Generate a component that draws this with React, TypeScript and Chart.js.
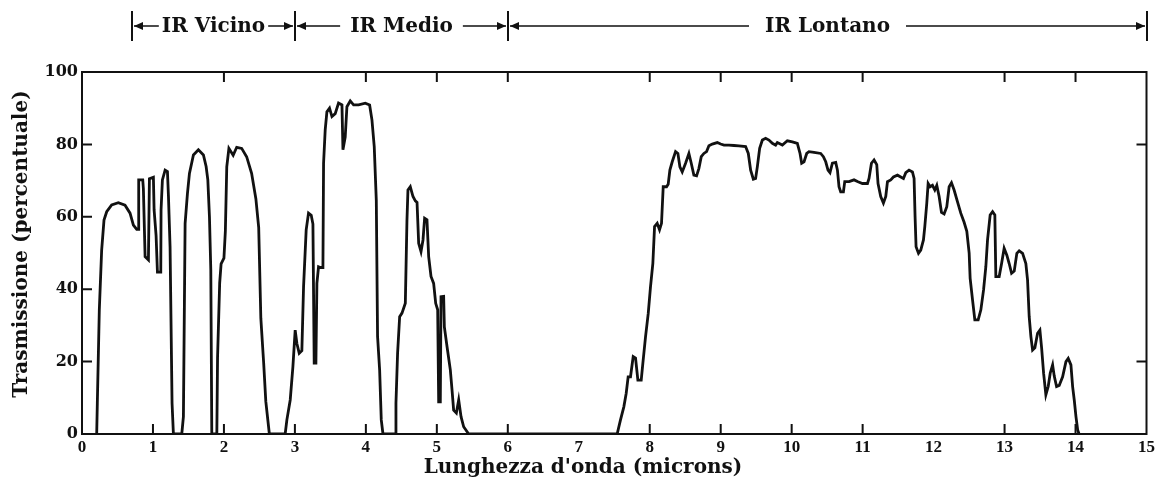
import { useEffect, useRef } from 'react';
import { Chart, registerables } from 'chart.js';

Chart.register(...registerables);

// Wavelength (microns) and atmospheric transmission (%)
const wavelength = [
  0.19, 0.207, 0.216, 0.244, 0.277, 0.31, 0.348, 0.418, 0.512, 0.606, 0.677, 0.724, 0.771, 0.795,
  0.799, 0.856, 0.865, 0.889, 0.936, 0.95, 1.006, 1.016, 1.044, 1.063, 1.11, 1.114, 1.133, 1.171,
  1.204, 1.218, 1.241, 1.269, 1.288,
  1.406, 1.429, 1.453, 1.486, 1.514, 1.57, 1.64, 1.711, 1.749, 1.773, 1.796, 1.815, 1.829,
  1.9, 1.91, 1.94, 1.96, 2.0, 2.02, 2.04, 2.07, 2.13, 2.18, 2.25, 2.32, 2.39, 2.45, 2.49, 2.52,
  2.56, 2.59, 2.64,
  2.863, 2.887, 2.934, 2.972, 3.004, 3.028, 3.061, 3.098, 3.122, 3.159, 3.192, 3.23, 3.254, 3.272,
  3.296, 3.31, 3.333, 3.357, 3.395, 3.404, 3.427, 3.451, 3.488, 3.522, 3.568, 3.615, 3.663, 3.677,
  3.709, 3.733, 3.78, 3.827, 3.897, 3.992, 4.053, 4.086, 4.118, 4.147, 4.165, 4.194, 4.217, 4.241,
  4.415, 4.424, 4.447, 4.476, 4.509, 4.556, 4.579, 4.593, 4.626, 4.664, 4.697, 4.721, 4.744, 4.777,
  4.805, 4.828, 4.861, 4.885, 4.918, 4.955, 4.984, 5.012, 5.026, 5.049, 5.059, 5.096, 5.106, 5.144,
  5.19, 5.214, 5.237, 5.275, 5.308, 5.341, 5.378, 5.449,
  7.541, 7.588, 7.635, 7.668, 7.696, 7.729, 7.767, 7.8, 7.833, 7.88, 7.903, 7.941, 7.979, 8.011,
  8.044, 8.068, 8.105, 8.138, 8.166, 8.19, 8.237, 8.26, 8.284, 8.317, 8.364, 8.397, 8.425, 8.458,
  8.505, 8.552, 8.585, 8.622, 8.66, 8.693, 8.726, 8.763, 8.801, 8.834, 8.881, 8.952, 8.999, 9.046,
  9.116, 9.187, 9.257, 9.351, 9.389, 9.422, 9.46, 9.492, 9.516, 9.549, 9.587, 9.633, 9.68, 9.728,
  9.774, 9.798, 9.869, 9.939, 10.01, 10.08, 10.118, 10.141, 10.174, 10.212, 10.244, 10.315, 10.409,
  10.447, 10.48, 10.512, 10.54, 10.574, 10.621, 10.645, 10.667, 10.691, 10.729, 10.748, 10.809,
  10.879, 10.935, 10.997, 11.068, 11.09, 11.124, 11.161, 11.199, 11.217, 11.255, 11.293, 11.326,
  11.35, 11.396, 11.434, 11.491, 11.537, 11.575, 11.608, 11.654, 11.702, 11.725, 11.739, 11.753,
  11.787, 11.819, 11.857, 11.876, 11.904, 11.923, 11.951, 11.984, 12.017, 12.045, 12.078, 12.111,
  12.148, 12.186, 12.219, 12.252, 12.289, 12.336, 12.383, 12.43, 12.468, 12.501, 12.515, 12.549,
  12.581, 12.628, 12.666, 12.704, 12.736, 12.76, 12.797, 12.831, 12.863, 12.877, 12.924, 12.958,
  12.994, 13.032, 13.065, 13.099, 13.136, 13.173, 13.206, 13.254, 13.3, 13.324, 13.347, 13.371,
  13.395, 13.427, 13.465, 13.498, 13.522, 13.55, 13.582, 13.615, 13.643, 13.677, 13.7, 13.733,
  13.77, 13.818, 13.865, 13.897, 13.935, 13.959, 13.982, 14.006, 14.03, 14.05,
];

const transmission = [
  0, 0, 8.5, 34.3, 50.8, 59.1, 61.4, 63.3, 63.9, 63.2, 61, 57.7, 56.5, 56.5,
  70.2, 70.2, 67.7, 49, 48.1, 70.5, 70.9, 61.9, 54.8, 44.7, 44.7, 61.9, 70.2, 72.9,
  72.5, 65.8, 51.7, 8.5, 0,
  0, 4.8, 58.2, 66.5, 72, 77.1, 78.5, 77.1, 73.9, 70.2, 60, 45.3, 0,
  0, 21, 41.7, 47, 48.6, 56, 73.8, 78.9, 77, 79.2, 78.9, 76.6, 72, 65, 57, 32,
  19.6, 9, 0,
  0, 3.9, 9.4, 18.6, 28.7, 25, 22.3, 23, 40.7, 56.4, 61, 60.4, 58, 19.6,
  19.6, 41.6, 46.2, 46, 46, 74.8, 84, 89, 90, 87.7, 88.5, 91.4, 90.9, 78.5,
  82, 90.4, 92, 90.9, 90.9, 91.4, 90.9, 86.7, 79.4, 64.6, 26.9, 17.7, 3.9, 0,
  0, 8.5, 22.3, 32.4, 33.4, 36.1, 59, 67.4, 68.3, 65.6, 64.4, 64, 52.7, 50.4,
  53.6, 59.6, 59.2, 49, 43.5, 41.6, 36.1, 34.3, 8.9, 8.9, 37.9, 38, 29.6, 24.1,
  17.7, 12.2, 6.6, 5.8, 9.4, 4.8, 2, 0,
  0, 3.9, 7.5, 11.2, 15.8, 15.8, 21.4, 21, 14.9, 14.9, 19.5, 26.9, 33.3, 40.7,
  47.1, 57.3, 58.2, 56.4, 58.2, 68.3, 68.3, 69, 72.9, 75.2, 78, 77.5, 73.8, 72.4,
  74.8, 77.5, 74.8, 71.5, 71.3, 73.4, 76.6, 77.5, 78, 79.6, 80.1, 80.5, 80.1, 79.8,
  79.8, 79.7, 79.6, 79.4, 77.5, 72.9, 70.4, 70.6, 73.8, 78.9, 81.2, 81.7, 81.2, 80.3,
  79.8, 80.5, 79.8, 81, 80.7, 80.3, 77.5, 74.8, 75.2, 77.5, 78, 77.8, 77.5,
  76.6, 75.2, 72.9, 72.2, 74.8, 75, 72.9, 68.3, 66.9, 66.9, 69.7, 69.7,
  70.2, 69.7, 69.2, 69.2, 70.6, 74.8, 75.7, 74.4, 69.2, 65.6, 63.8, 65.6,
  69.7, 70.2, 71, 71.5, 71, 70.6, 72.2, 72.9, 72.4, 70.6, 60, 51.7,
  49.9, 50.8, 53.6, 57.3, 63.8, 69.2, 68.3, 68.7, 67.4, 68.7, 65.6, 61.2,
  60.8, 62.8, 68.3, 69.4, 67.4, 64.2, 61, 58.5, 56, 50, 43, 37,
  31.5, 31.5, 34.3, 39.8, 46.2, 53.6, 60.5, 61.4, 60.5, 43.5, 43.5, 47.1,
  51.3, 49.4, 47.1, 44.4, 45, 49.9, 50.6, 49.9, 47.1, 42.5, 32.4, 26.9,
  23.2, 23.8, 27.8, 28.7, 23.8, 16.8, 10.8, 13.1, 16.8, 19.1, 16, 13.1,
  13.4, 15.8, 20, 20.9, 19.1, 13.1, 9.4, 4.8, 1.1, 0,
];

const xTickValues = [0, 1, 2, 3, 4, 5, 6, 7, 8, 9, 10, 11, 12, 13, 14, 15];
const yTickValues = [0, 20, 40, 60, 80, 100];
const topTickMarks = [2, 4, 5, 6, 8, 9, 10, 11, 13, 14];
const bottomTickMarks = [1, 2, 3, 4, 5, 6, 8, 9, 10, 11, 13, 14];
const leftTickMarks = [20, 40, 60, 80];
const rightTickMarks = [20, 80];

const bandEdges = [0.7, 3, 6, 15];
const bandNames = ['IR Vicino', 'IR Medio', 'IR Lontano'];
const bandGaps = [3, 10, 16];

const xTitle = "Lunghezza d'onda (microns)";
const yTitle = 'Trasmissione (percentuale)';

const INK = '#111';
const TITLE_FONT = 'bold 20px "DejaVu Serif"';

const decorPlugin = {
  id: 'decor',
  afterDraw(chart: any) {
    const { ctx, chartArea: a, scales } = chart;
    const xs = scales.x;
    const ys = scales.y;
    ctx.save();
    ctx.strokeStyle = INK;
    ctx.fillStyle = INK;
    ctx.lineWidth = 2;
    ctx.strokeRect(a.left, a.top, a.right - a.left, a.bottom - a.top);

    const L = 10;
    ctx.beginPath();
    for (const v of bottomTickMarks) {
      const p = xs.getPixelForValue(v);
      ctx.moveTo(p, a.bottom);
      ctx.lineTo(p, a.bottom - L);
    }
    for (const v of topTickMarks) {
      const p = xs.getPixelForValue(v);
      ctx.moveTo(p, a.top);
      ctx.lineTo(p, a.top + L);
    }
    for (const v of leftTickMarks) {
      const p = ys.getPixelForValue(v);
      ctx.moveTo(a.left, p);
      ctx.lineTo(a.left + L, p);
    }
    for (const v of rightTickMarks) {
      const p = ys.getPixelForValue(v);
      ctx.moveTo(a.right, p);
      ctx.lineTo(a.right - L, p);
    }
    ctx.stroke();

    // Band header with arrows
    const yLine = 26;
    ctx.beginPath();
    for (const e of bandEdges) {
      const p = Math.round(xs.getPixelForValue(e));
      ctx.moveTo(p, 11);
      ctx.lineTo(p, 41);
    }
    ctx.stroke();
    ctx.font = TITLE_FONT;
    ctx.textAlign = 'center';
    ctx.textBaseline = 'alphabetic';
    const head = (tipX: number, dir: number) => {
      ctx.beginPath();
      ctx.moveTo(tipX, yLine);
      ctx.lineTo(tipX + dir * 9, yLine - 4);
      ctx.lineTo(tipX + dir * 9, yLine + 4);
      ctx.closePath();
      ctx.fill();
    };
    ctx.lineWidth = 1.6;
    for (let i = 0; i < bandNames.length; i++) {
      const l = Math.round(xs.getPixelForValue(bandEdges[i]));
      const r = Math.round(xs.getPixelForValue(bandEdges[i + 1]));
      const c = (l + r) / 2;
      const w = ctx.measureText(bandNames[i]).width;
      ctx.fillText(bandNames[i], c, 32);
      ctx.beginPath();
      ctx.moveTo(l + 2, yLine);
      ctx.lineTo(c - w / 2 - bandGaps[i], yLine);
      ctx.moveTo(c + w / 2 + bandGaps[i], yLine);
      ctx.lineTo(r - 2, yLine);
      ctx.stroke();
      head(l + 2, 1);
      head(r - 2, -1);
    }

    // Axis titles
    ctx.font = TITLE_FONT;
    ctx.textAlign = 'center';
    ctx.textBaseline = 'middle';
    ctx.fillText(xTitle, 583, 468);
    ctx.save();
    ctx.translate(22, 244);
    ctx.rotate(-Math.PI / 2);
    ctx.fillText(yTitle, 0, 0);
    ctx.restore();

    ctx.restore();
  },
};

export default function App() {
  const canvasRef = useRef<HTMLCanvasElement | null>(null);

  useEffect(() => {
    if (!canvasRef.current) return;
    const points = wavelength.map((x, i) => ({ x, y: transmission[i] }));
    const chart = new Chart(canvasRef.current, {
      type: 'line',
      data: {
        datasets: [
          {
            data: points,
            borderColor: INK,
            borderWidth: 2.8,
            pointRadius: 0,
            tension: 0,
            fill: false,
          },
        ],
      },
      options: {
        animation: false,
        responsive: true,
        maintainAspectRatio: false,
        layout: { padding: { top: 72, right: 11, left: 0, bottom: 0 } },
        plugins: {
          legend: { display: false },
          tooltip: { enabled: false },
          title: { display: false },
        },
        scales: {
          x: {
            type: 'linear',
            min: 0,
            max: 15,
            afterBuildTicks: (s: any) => {
              s.ticks = xTickValues.map((v) => ({ value: v }));
            },
            afterFit: (s: any) => {
              s.height = 50;
            },
            grid: { display: false, drawTicks: false },
            border: { display: false },
            ticks: {
              color: INK,
              padding: 3,
              maxRotation: 0,
              autoSkip: false,
              font: { family: '"Liberation Serif"', weight: 'bold', size: 17 },
            },
          },
          y: {
            type: 'linear',
            min: 0,
            max: 100,
            afterBuildTicks: (s: any) => {
              s.ticks = yTickValues.map((v) => ({ value: v }));
            },
            afterFit: (s: any) => {
              s.width = 82;
            },
            grid: { display: false, drawTicks: false },
            border: { display: false },
            ticks: {
              color: INK,
              padding: 4,
              font: { family: '"DejaVu Serif"', weight: 'bold', size: 16 },
            },
          },
        },
      },
      plugins: [decorPlugin],
    });
    return () => chart.destroy();
  }, []);

  return (
    <div style={{ position: 'absolute', left: 0, top: 0, width: 1158, height: 484, background: '#fff' }}>
      <canvas ref={canvasRef} style={{ display: 'block' }} />
    </div>
  );
}
